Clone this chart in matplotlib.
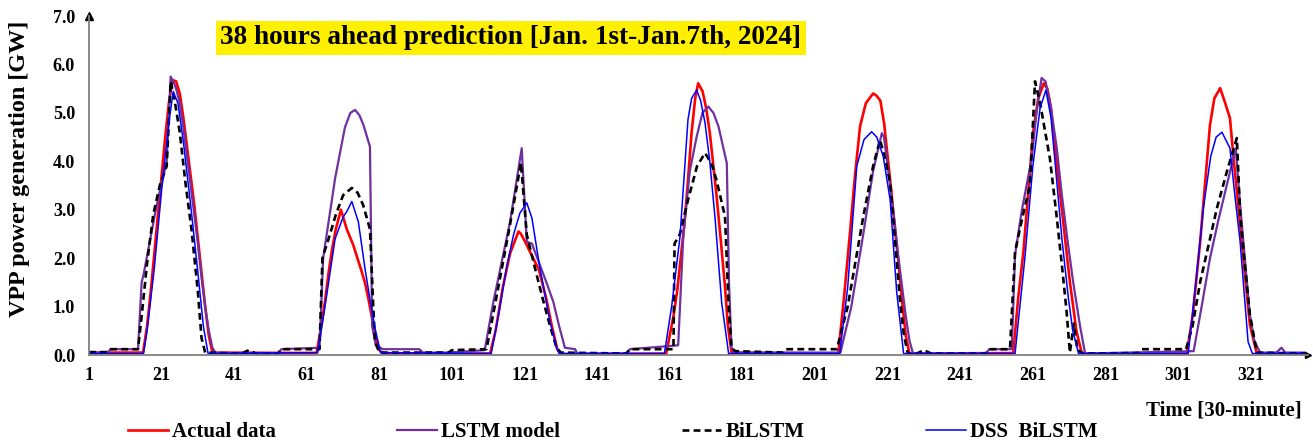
import matplotlib
matplotlib.use("Agg")
import matplotlib.pyplot as plt

plt.rcParams['font.family'] = 'Liberation Serif'
plt.rcParams['font.weight'] = 'bold'

# Half-hourly VPP output, Jan 1-7 2024 (index 1..336), vertices of each trace
actual_t = [1, 15.9, 17, 18, 19, 20, 21, 22, 23, 24, 25, 26, 27, 28, 29, 30, 31, 32, 33, 34, 35,
            63.7, 65, 66, 67, 68, 69, 70.4, 72, 73.8, 76, 77, 78, 79, 80, 81, 82,
            111.5, 113, 115, 117, 119.3, 120, 121.6, 123, 125, 127, 128.5, 130, 131,
            160, 162, 163, 164, 165, 166, 167, 168, 168.8, 170, 171, 172, 173.9, 175, 176.2, 177, 178,
            207.4, 209, 210.6, 212, 213.4, 215, 217, 218, 219, 220, 221, 222, 223, 224, 225, 226, 227,
            255.6, 257, 258.4, 260, 261.1, 262.5, 264, 265, 266, 267.6, 269, 271.2, 273, 274.5,
            303.4, 305, 307.1, 309.8, 311, 312.6, 314, 315.3, 316.5, 318.1, 319.5, 320.8, 322.7, 336]
actual_v = [0.05, 0.05, 0.6, 1.3, 2.1, 2.9, 3.7, 4.5, 5.2, 5.68, 5.65, 5.4, 4.9, 4.3, 3.7, 3.1, 2.4, 1.7, 1.0, 0.4, 0.05,
            0.04, 0.6, 1.1, 1.7, 2.2, 2.6, 3.0, 2.6, 2.27, 1.75, 1.5, 1.15, 0.75, 0.35, 0.1, 0.03,
            0.03, 0.5, 1.4, 2.1, 2.55, 2.5, 2.27, 2.05, 1.75, 1.15, 0.6, 0.12, 0.02,
            0.03, 0.8, 1.3, 2.0, 2.7, 3.6, 4.6, 5.3, 5.61, 5.45, 5.1, 4.6, 3.27, 2.4, 1.41, 0.6, 0.05,
            0.03, 1.2, 2.5, 3.7, 4.72, 5.2, 5.4, 5.35, 5.25, 4.8, 4.1, 3.4, 2.6, 1.9, 1.1, 0.4, 0.03,
            0.04, 1.2, 2.13, 3.6, 4.61, 5.3, 5.61, 5.5, 5.1, 3.93, 3.0, 1.51, 0.5, 0.03,
            0.03, 0.8, 2.34, 4.75, 5.3, 5.51, 5.2, 4.89, 3.9, 2.69, 1.6, 0.62, 0.03, 0.03]

lstm_t = [1, 6, 7, 14.5, 15.5, 16, 19.4, 22.4, 23.5, 24.5, 25, 26, 27, 28, 29, 30, 31, 32, 33, 34, 35, 36,
          53, 54, 64.5, 65.5, 68.8, 71.5, 73, 74.3, 75.5, 76.6, 78.4, 79, 80, 82, 92, 93,
          100, 110, 112.4, 117, 120.2, 121.6, 123, 125.2, 127, 128.9, 130.5, 132.1, 134.9, 135.5,
          149, 150, 163.3, 164.7, 166.5, 168.4, 170, 171.6, 173, 174.4, 176.7, 177.3, 178, 179,
          208, 211, 214.3, 217, 219.4, 220, 221, 222, 223, 224, 225, 226, 227, 228,
          248, 249, 255.2, 256.1, 258, 260.7, 262, 263.4, 264.5, 266, 267.6, 269, 270.5, 272.1, 274, 275.4,
          305.3, 307.5, 309.8, 312, 314.4, 316.9, 318, 319.5, 320.8, 322, 323.6, 328, 329.5, 330.5, 336]
lstm_v = [0.05, 0.05, 0.12, 0.12, 1.5, 1.65, 3.0, 4.0, 5.75, 5.6, 5.5, 5.2, 4.7, 4.1, 3.5, 2.9, 2.3, 1.6, 1.0, 0.5, 0.15, 0.03,
          0.03, 0.12, 0.15, 2.0, 3.65, 4.7, 5.0, 5.06, 4.95, 4.75, 4.3, 0.6, 0.2, 0.12, 0.12, 0.05,
          0.05, 0.1, 1.1, 2.75, 4.27, 2.34, 2.3, 1.86, 1.5, 1.1, 0.6, 0.15, 0.12, 0.03,
          0.03, 0.12, 0.2, 2.44, 3.8, 4.51, 5.0, 5.13, 5.0, 4.72, 3.96, 1.5, 0.15, 0.05,
          0.05, 1.0, 2.5, 3.8, 4.58, 4.5, 3.9, 3.3, 2.7, 2.0, 1.4, 0.8, 0.3, 0.03,
          0.03, 0.12, 0.12, 2.07, 3.0, 4.06, 5.0, 5.72, 5.65, 5.1, 4.27, 3.3, 2.4, 1.51, 0.6, 0.03,
          0.08, 1.0, 2.0, 2.75, 3.5, 4.27, 3.2, 1.9, 0.83, 0.3, 0.05, 0.05, 0.15, 0.05, 0.05]

bilstm_t = [1, 6, 7, 14.5, 15.5, 17, 18.7, 20.5, 22.4, 23.5, 24.5, 26, 27.5, 29.3, 31, 32, 33,
            43, 45, 47, 53, 54, 64.5, 65.3, 67, 69, 71, 73.4, 75, 76.5, 78.4, 79.3, 79.8, 81,
            100, 101, 110.5, 113, 117, 120, 121.6, 124, 126.2, 128, 129.8, 131,
            149, 150, 162, 162.3, 163.8, 166, 168.5, 170.7, 172.5, 173.9, 176.2, 177.2, 178, 179,
            192, 193, 207, 210, 214.3, 217, 218.9, 220.5, 221.7, 223, 224.4, 225.5, 226.6,
            229, 231, 233, 248, 249, 254.7, 256.1, 258, 260.2, 261.6, 263, 265.7, 267.5, 269, 270.3, 271.2, 272.3, 273.3, 275,
            290, 291, 303.2, 305, 307.1, 309.5, 311.7, 314.5, 317.2, 318.1, 319.5, 320.8, 322.7, 336]
bilstm_v = [0.06, 0.06, 0.12, 0.12, 0.8, 1.9, 2.9, 3.5, 3.9, 5.65, 5.3, 4.6, 3.6, 2.55, 1.3, 0.35, 0.05,
            0.03, 0.1, 0.03, 0.03, 0.12, 0.12, 2.0, 2.4, 2.9, 3.3, 3.45, 3.35, 3.1, 2.6, 1.0, 0.27, 0.05,
            0.05, 0.1, 0.12, 1.1, 2.7, 3.97, 2.48, 1.75, 1.1, 0.6, 0.15, 0.05,
            0.03, 0.12, 0.12, 2.3, 2.5, 3.2, 3.9, 4.17, 3.95, 3.6, 2.86, 1.0, 0.15, 0.08,
            0.05, 0.12, 0.12, 1.0, 2.86, 3.9, 4.44, 4.0, 3.55, 2.4, 1.13, 0.4, 0.03,
            0.03, 0.1, 0.03, 0.03, 0.12, 0.12, 2.13, 2.8, 3.5, 5.65, 5.2, 4.06, 2.9, 1.86, 0.9, 0.05, 0.65, 0.1, 0.03,
            0.04, 0.12, 0.12, 0.6, 1.51, 2.3, 3.03, 3.8, 4.48, 2.9, 1.8, 0.83, 0.05, 0.03]

dss_t = [1, 16, 17, 19, 21, 23, 24.2, 25.5, 27, 29, 31, 32.5, 33.8,
         64, 66, 68.8, 71, 72, 73.4, 75.2, 77, 78.5, 79.8, 81.3,
         111.8, 114, 116, 118, 119.7, 121.6, 123, 125.2, 128, 129.8, 130.5,
         159.5, 161.5, 163.8, 166, 167, 168.4, 169.5, 170.7, 172, 173.5, 175.3, 177.2,
         207.8, 210, 212.5, 214.5, 216.6, 218, 219.8, 221.7, 223.5, 225.4,
         256.1, 258.8, 261, 263, 264.6, 266, 267.6, 269, 270.8, 272, 273.6,
         303.8, 305.5, 308, 310, 311.5, 313.1, 315.3, 316.5, 318.1, 319.3, 320.3, 321.5, 336]
dss_v = [0.03, 0.03, 0.5, 1.8, 3.4, 4.8, 5.44, 5.2, 4.4, 3.1, 1.7, 0.6, 0.03,
         0.05, 1.0, 2.4, 2.85, 2.96, 3.17, 2.75, 1.8, 1.1, 0.55, 0.05,
         0.03, 0.9, 1.8, 2.5, 2.93, 3.14, 2.83, 1.8, 0.69, 0.15, 0.03,
         0.03, 1.0, 2.44, 4.86, 5.3, 5.47, 5.25, 4.79, 4.0, 2.79, 1.07, 0.03,
         0.03, 1.4, 3.9, 4.45, 4.61, 4.5, 4.1, 3.2, 1.3, 0.03,
         0.03, 2.0, 3.9, 5.1, 5.47, 4.9, 3.58, 2.4, 1.17, 0.5, 0.03,
         0.03, 1.2, 3.04, 4.1, 4.5, 4.6, 4.27, 3.4, 2.34, 1.2, 0.27, 0.03, 0.03]

x_ticks = [1, 21, 41, 61, 81, 101, 121, 141, 161, 181, 201, 221, 241, 261, 281, 301, 321]
y_ticks = [0.0, 1.0, 2.0, 3.0, 4.0, 5.0, 6.0, 7.0]

W, H = 1313, 441
fig = plt.figure(figsize=(W / 100, H / 100), dpi=100)
ax = fig.add_axes([89 / W, 1 - 355 / H, 1219 / W, 339 / H])

ax.plot(actual_t, actual_v, color='#FF0000', lw=1.9, label='Actual data')
ax.plot(lstm_t, lstm_v, color='#7030A0', lw=1.6, label='LSTM model')
ax.plot(bilstm_t, bilstm_v, color='black', lw=1.9, ls=(0, (2.6, 1.6)), label='BiLSTM')
ax.plot(dss_t, dss_v, color='#0000FF', lw=1.1, label='DSS  BiLSTM')

ax.set_xlim(1, 336.8)
ax.set_ylim(0, 7)
ax.set_xticks(x_ticks)
ax.set_yticks(y_ticks)
ax.set_yticklabels([f'{v:.1f}' for v in y_ticks])
ax.tick_params(axis='x', length=0, pad=9, labelsize=13)
ax.tick_params(axis='y', length=0, pad=10, labelsize=13)
for s in ['top', 'right']:
    ax.spines[s].set_visible(False)
for s in ['left', 'bottom']:
    ax.spines[s].set_color('#808080')
    ax.spines[s].set_linewidth(1.3)

# axis arrow heads
ax.plot([0], [1], marker='^', color='black', markersize=6, transform=ax.transAxes, clip_on=False)
ax.plot([1], [0], marker='>', color='black', markersize=4, transform=ax.transAxes, clip_on=False)

fig.text(20 / W, 1 - 169 / H, 'VPP power generation [GW]', rotation=90,
         ha='center', va='center', fontsize=17.4)
fig.text(1302 / W, 1 - 410 / H, 'Time [30-minute]', ha='right', va='center', fontsize=15)
fig.text(511 / W, 1 - 38 / H, '38 hours ahead prediction [Jan. 1st-Jan.7th, 2024]',
         ha='center', va='center', fontsize=19.6,
         bbox=dict(boxstyle='square,pad=0.17', facecolor='#FFEF00', edgecolor='none'))

fig.legend(loc='center left', bbox_to_anchor=(128 / W, 1 - 432 / H), ncol=4, frameon=False,
           fontsize=15, handlelength=1.9, handletextpad=0.22, columnspacing=5.82,
           borderpad=0, borderaxespad=0)

fig.savefig('out.png', dpi=100)
